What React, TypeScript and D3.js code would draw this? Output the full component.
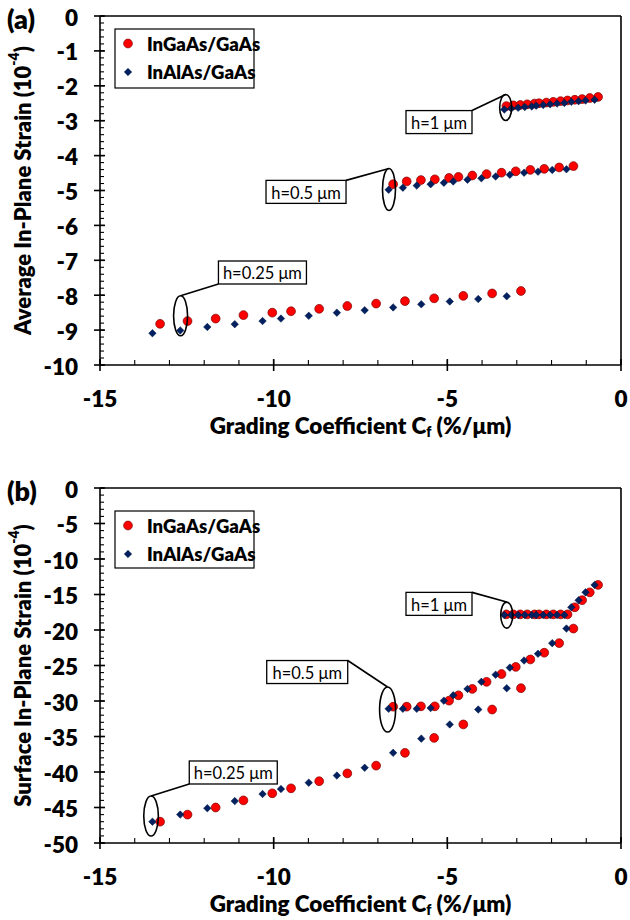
import React from 'react'
import * as d3 from 'd3'

// grading coefficient Cf (%/um), one list per cap thickness h
const cfGa025 = [-13.27, -12.48, -11.67, -10.87, -10.04, -9.5, -8.69, -7.88, -7.05, -6.22, -5.38, -4.54, -3.71, -2.88]
const cfAl025 = [-13.49, -12.69, -11.91, -11.12, -10.32, -9.79, -8.99, -8.18, -7.38, -6.56, -5.75, -4.93, -4.11, -3.29]
const cfGa05 = [-6.56, -6.17, -5.76, -5.36, -4.95, -4.68, -4.28, -3.87, -3.44, -3.03, -2.61, -2.21, -1.78, -1.37]
const cfAl05 = [-6.69, -6.28, -5.88, -5.48, -5.1, -4.83, -4.42, -4.02, -3.61, -3.2, -2.79, -2.39, -1.98, -1.57]
const cfGa1 = [-3.3, -3.1, -2.9, -2.7, -2.49, -2.36, -2.15, -1.95, -1.74, -1.54, -1.33, -1.12, -0.9, -0.66]
const cfAl1 = [-3.36, -3.16, -2.96, -2.77, -2.57, -2.44, -2.24, -2.04, -1.84, -1.63, -1.43, -1.22, -1.02, -0.76]

// (a) average in-plane strain (1e-4)
const avgGa025 = [-8.82, -8.74, -8.67, -8.57, -8.5, -8.46, -8.39, -8.31, -8.24, -8.17, -8.09, -8.02, -7.95, -7.88]
const avgAl025 = [-9.09, -9.01, -8.91, -8.83, -8.74, -8.67, -8.59, -8.5, -8.43, -8.35, -8.26, -8.18, -8.11, -8.03]
const avgGa05 = [-4.82, -4.74, -4.7, -4.68, -4.64, -4.61, -4.57, -4.53, -4.49, -4.45, -4.41, -4.38, -4.34, -4.3]
const avgAl05 = [-4.98, -4.92, -4.86, -4.82, -4.78, -4.74, -4.69, -4.65, -4.6, -4.55, -4.49, -4.46, -4.41, -4.39]
const avgGa1 = [-2.58, -2.56, -2.55, -2.53, -2.51, -2.5, -2.48, -2.46, -2.44, -2.42, -2.4, -2.38, -2.35, -2.32]
const avgAl1 = [-2.68, -2.65, -2.63, -2.61, -2.59, -2.57, -2.55, -2.53, -2.51, -2.49, -2.46, -2.44, -2.42, -2.4]

// (b) surface in-plane strain (1e-4)
const surfGa025 = [-47.0, -46.0, -45.0, -44.0, -43.0, -42.3, -41.3, -40.2, -39.1, -37.3, -35.2, -33.3, -31.2, -28.2]
const surfAl025 = [-47.0, -46.0, -45.1, -44.1, -43.1, -42.4, -41.5, -40.5, -39.4, -37.3, -35.3, -33.3, -31.2, -28.2]
const surfGa05 = [-30.8, -30.8, -30.75, -30.75, -29.95, -29.2, -28.3, -27.3, -26.2, -25.2, -24.15, -23.2, -21.85, -19.8]
const surfAl05 = [-31.1, -31.1, -31.1, -31.0, -29.95, -29.2, -28.3, -27.3, -26.3, -25.3, -24.3, -23.35, -21.85, -19.8]
const surfGa1 = [-17.8, -17.8, -17.8, -17.8, -17.8, -17.8, -17.8, -17.8, -17.8, -17.8, -16.8, -15.8, -14.7, -13.65]
const surfAl1 = [-17.9, -17.9, -17.9, -17.9, -17.9, -17.9, -17.9, -17.9, -17.9, -17.9, -16.8, -15.8, -14.7, -13.65]

const seriesNames = ['InGaAs/GaAs', 'InAlAs/GaAs']
const FONT = 'Lato, "Open Sans", sans-serif'
const RED = '#FF0000'
const NAVY = '#002060'
const diamond = (d3 as any).symbolDiamond2 || d3.symbolDiamond

const zip = (xs: number[], ys: number[]) => xs.map((v, i) => [v, ys[i]] as [number, number])

type Note = { label: string; cx: number; cy: number; rx: number; ry: number; bx: number; by: number; bw: number; anchor: 'tr' | 'bl' }

function Marker({ kind, x, y }: { kind: number; x: number; y: number }) {
  if (kind === 0) return <circle cx={x} cy={y} r={4.4} fill={RED} stroke="#7a0000" strokeWidth={0.7} />
  const p = d3.symbol().type(diamond).size(36)() as string
  return <path d={p} transform={`translate(${x},${y})`} fill={NAVY} stroke="#001540" strokeWidth={0.5} />
}

function Panel(props: {
  top: number; bottom: number; yMin: number; yMinor: number; tag: string; yTitle: string
  red: [number, number][][]; blue: [number, number][][]; notes: Note[]; legendTop: number; legendH: number
}) {
  const { top, bottom, yMin, yMinor, tag, yTitle, red, blue, notes, legendTop, legendH } = props
  const left = 100, right = 621
  const x = d3.scaleLinear().domain([-15, 0]).range([left, right])
  const y = d3.scaleLinear().domain([yMin, 0]).range([bottom, top])
  const xMajor = [-15, -10, -5, 0]
  const xMinor = d3.range(-15, 0.001, 1)
  const yMajor = y.ticks(10)
  const yMinorTicks = d3.range(yMin, 0.0001, yMinor)
  const midY = (top + bottom) / 2
  const heavy = 800

  return (
    <g fontFamily={FONT}>
      <text x={7} y={top + 2} fontSize={27} fontWeight={heavy} dominantBaseline="central">{tag}</text>
      {/* frame */}
      <line x1={left} x2={right} y1={top} y2={top} stroke="#000" strokeWidth={1.6} />
      <line x1={right} x2={right} y1={top} y2={bottom} stroke="#000" strokeWidth={1.6} />
      <line x1={left} x2={right} y1={bottom} y2={bottom} stroke="#000" strokeWidth={1.6} />
      <line x1={left} x2={left} y1={top} y2={bottom} stroke="#000" strokeWidth={1.6} />
      {yMinorTicks.map((t, i) => (
        <line key={'ym' + i} x1={left} x2={left + 4} y1={y(t)} y2={y(t)} stroke="#000" strokeWidth={1.1} />
      ))}
      {yMajor.map(t => (
        <g key={'y' + t}>
          <line x1={left - 6} x2={left + 5} y1={y(t)} y2={y(t)} stroke="#000" strokeWidth={1.6} />
          <text x={78} y={y(t) + 1} textAnchor="end" dominantBaseline="central" fontSize={22.5} fontWeight={heavy}>{t}</text>
        </g>
      ))}
      {xMinor.map((t, i) => (
        <line key={'xm' + i} x1={x(t)} x2={x(t)} y1={bottom} y2={bottom - 5} stroke="#000" strokeWidth={1.1} />
      ))}
      {xMajor.map(t => (
        <g key={'x' + t}>
          <line x1={x(t)} x2={x(t)} y1={bottom - 6} y2={bottom + 6} stroke="#000" strokeWidth={1.6} />
          <text x={x(t)} y={bottom + 33} textAnchor="middle" dominantBaseline="central" fontSize={22.5} fontWeight={heavy}>{t}</text>
        </g>
      ))}
      <text x={(left + right) / 2} y={bottom + 60} textAnchor="middle" dominantBaseline="central" fontSize={22.5} fontWeight={heavy}>
        Grading Coefficient C<tspan fontSize={14} dy={6}>f</tspan><tspan dy={-6}> (%/μm)</tspan>
      </text>
      <text transform={`translate(22,${midY}) rotate(-90)`} textAnchor="middle" dominantBaseline="central" fontSize={22} fontWeight={heavy}>
        {yTitle} (10<tspan fontSize={14} dy={-9}>-4</tspan><tspan dy={9}>)</tspan>
      </text>

      {/* points: InGaAs first, InAlAs on top */}
      {red.map((s, si) => s.map((d, i) => <Marker key={`r${si}-${i}`} kind={0} x={x(d[0])} y={y(d[1])} />))}
      {blue.map((s, si) => s.map((d, i) => <Marker key={`b${si}-${i}`} kind={1} x={x(d[0])} y={y(d[1])} />))}

      {notes.map(n => {
        const ex = x(n.cx), ey = y(n.cy)
        const bx = x(n.bx), by = y(n.by), bh = 23
        const ax = n.anchor === 'tr' ? bx + n.bw : bx
        const ay = n.anchor === 'tr' ? by : by + bh
        return (
          <g key={n.label}>
            <ellipse cx={ex} cy={ey} rx={n.rx} ry={n.ry} fill="none" stroke="#000" strokeWidth={1.6} />
            <line x1={ax} y1={ay} x2={ex} y2={ey - n.ry} stroke="#000" strokeWidth={1.6} />
            <rect x={bx} y={by} width={n.bw} height={bh} fill="#fff" stroke="#000" strokeWidth={1.3} />
            <text x={bx + n.bw / 2} y={by + bh / 2 + 1} textAnchor="middle" dominantBaseline="central" fontSize={16.5}>{n.label}</text>
          </g>
        )
      })}

      {/* legend */}
      <rect x={115} y={legendTop} width={139} height={legendH} fill="#fff" stroke="#000" strokeWidth={1.2} />
      {seriesNames.map((name, i) => {
        const ly = legendTop + 14.5 + i * 28.5
        return (
          <g key={name}>
            <Marker kind={i} x={128} y={ly} />
            <text x={147} y={ly} dominantBaseline="central" fontSize={18.5} fontWeight={heavy}>{name}</text>
          </g>
        )
      })}
    </g>
  )
}

const notesA: Note[] = [
  { label: 'h=1 μm', cx: -3.32, cy: -2.62, rx: 6, ry: 13, bx: -6.19, by: -2.71, bw: 66, anchor: 'tr' },
  { label: 'h=0.5 μm', cx: -6.68, cy: -4.97, rx: 6.5, ry: 21, bx: -10.22, by: -4.71, bw: 80, anchor: 'tr' },
  { label: 'h=0.25 μm', cx: -12.68, cy: -8.59, rx: 7, ry: 20, bx: -11.59, by: -7.02, bw: 88, anchor: 'bl' },
]
const notesB: Note[] = [
  { label: 'h=1 μm', cx: -3.29, cy: -17.9, rx: 6, ry: 13, bx: -6.19, by: -14.7, bw: 66, anchor: 'tr' },
  { label: 'h=0.5 μm', cx: -6.72, cy: -31.2, rx: 8, ry: 22.5, bx: -10.2, by: -24.3, bw: 81, anchor: 'tr' },
  { label: 'h=0.25 μm', cx: -13.53, cy: -46.2, rx: 7.3, ry: 20, bx: -12.43, by: -38.45, bw: 88, anchor: 'bl' },
]

export default function App() {
  return (
    <svg width={630} height={920} style={{ position: 'absolute', left: 0, top: 0, background: '#fff' }}>
      <Panel
        top={16} bottom={365} yMin={-10} yMinor={0.2} tag="(a)" yTitle="Average In-Plane Strain"
        red={[zip(cfGa025, avgGa025), zip(cfGa05, avgGa05), zip(cfGa1, avgGa1)]}
        blue={[zip(cfAl025, avgAl025), zip(cfAl05, avgAl05), zip(cfAl1, avgAl1)]}
        notes={notesA} legendTop={29} legendH={59}
      />
      <Panel
        top={488} bottom={843} yMin={-50} yMinor={1} tag="(b)" yTitle="Surface In-Plane Strain"
        red={[zip(cfGa025, surfGa025), zip(cfGa05, surfGa05), zip(cfGa1, surfGa1)]}
        blue={[zip(cfAl025, surfAl025), zip(cfAl05, surfAl05), zip(cfAl1, surfAl1)]}
        notes={notesB} legendTop={511} legendH={57}
      />
    </svg>
  )
}
